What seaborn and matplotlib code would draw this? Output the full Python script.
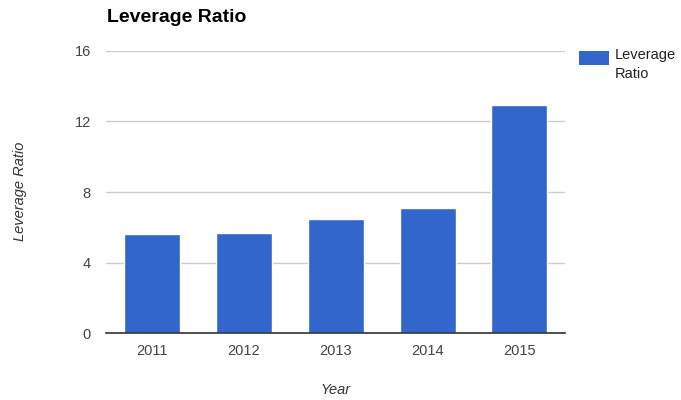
import matplotlib
matplotlib.use("Agg")
import matplotlib.pyplot as plt
from matplotlib.patches import Rectangle
import seaborn as sns
import pandas as pd

years = ["2011", "2012", "2013", "2014", "2015"]
leverage_ratio = [5.63, 5.70, 6.46, 7.10, 12.92]
y_ticks = [0, 4, 8, 12, 16]

BAR_COLOR = "#3366CC"

sns.set_theme(style="white")
plt.rcParams["font.family"] = ["Liberation Sans", "DejaVu Sans"]

df = pd.DataFrame({"Year": years, "Leverage Ratio": leverage_ratio})

fig = plt.figure(figsize=(6.81, 4.0), dpi=100)
ax = fig.add_axes([0.156, 0.167, 0.674, 0.706])

sns.barplot(data=df, x="Year", y="Leverage Ratio", color=BAR_COLOR,
            saturation=1, width=0.61, ax=ax, zorder=2)

ax.set_ylim(0, 16)
ax.set_yticks(y_ticks)
ax.set_yticklabels([str(t) for t in y_ticks])
ax.set_xlim(-0.5, len(years) - 0.5)

ax.yaxis.grid(True, color="#cccccc", linewidth=1.0, zorder=0)
ax.set_axisbelow(True)
for side in ["top", "right", "left"]:
    ax.spines[side].set_visible(False)
ax.spines["bottom"].set_color("#333333")
ax.spines["bottom"].set_linewidth(1.2)
ax.spines["bottom"].set_zorder(3)

ax.tick_params(axis="both", length=0, labelsize=10.5, colors="#444444")
ax.tick_params(axis="y", pad=11)
ax.tick_params(axis="x", pad=8)

ax.set_xlabel("Year", fontsize=10.5, style="italic", color="#333333", labelpad=18)
ax.set_ylabel("")
fig.text(20 / 681, 1 - 191 / 400, "Leverage Ratio", rotation=90, fontsize=10.5,
         style="italic", color="#333333", ha="center", va="center")

fig.text(107 / 681, 1 - 18 / 400, "Leverage Ratio", fontsize=14, fontweight="bold",
         color="#000000", ha="left", va="center")

# legend: colour key with wrapped series name
fig.patches.append(Rectangle((579 / 681, 1 - 65 / 400), 30 / 681, 14 / 400,
                             transform=fig.transFigure, facecolor=BAR_COLOR,
                             edgecolor="none"))
fig.text(615 / 681, 1 - 48 / 400, "Leverage\nRatio", fontsize=10.5, color="#222222",
         ha="left", va="top", linespacing=1.45)

fig.savefig("out.png", dpi=100, facecolor="white")
